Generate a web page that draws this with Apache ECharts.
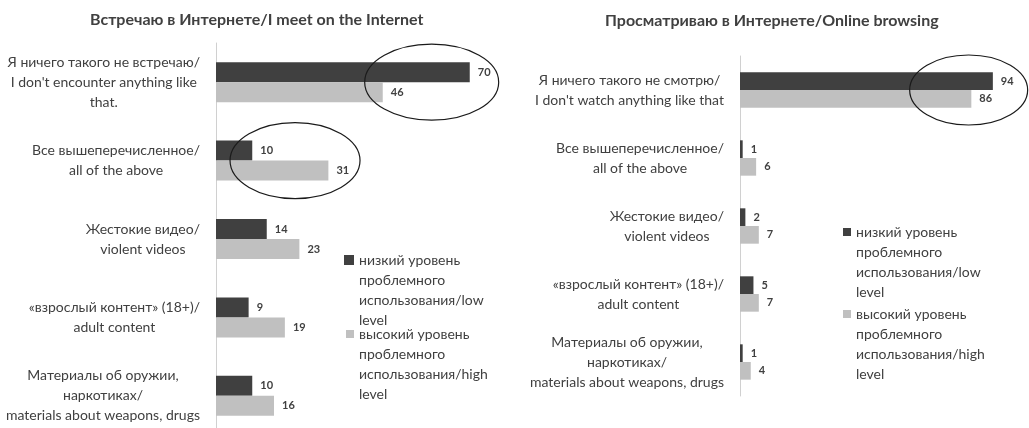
<!DOCTYPE html>
<html>
<head>
<meta charset="utf-8">
<script src="https://cdn.jsdelivr.net/npm/echarts@6/dist/echarts.min.js"></script>
<style>html,body{margin:0;padding:0;background:#fff;}#c{width:1029px;height:428px;}</style>
</head>
<body>
<div id="c"></div>
<script>
const titles = ['Встречаю в Интернете/I meet on the Internet', 'Просматриваю в Интернете/Online browsing'];
const categoriesMeet = [
  "Я ничего такого не встречаю/\nI don't encounter anything like\nthat.",
  "Все вышеперечисленное/\nall of the above",
  "Жестокие видео/\nviolent videos",
  "«взрослый контент» (18+)/\nadult content",
  "Материалы об оружии,\nнаркотиках/\nmaterials about weapons, drugs"
];
const categoriesBrowse = [
  "Я ничего такого не смотрю/\nI don't watch anything like that",
  "Все вышеперечисленное/\nall of the above",
  "Жестокие видео/\nviolent videos",
  "«взрослый контент» (18+)/\nadult content",
  "Материалы об оружии,\nнаркотиках/\nmaterials about weapons, drugs"
];
const seriesNames = [
  'низкий уровень\nпроблемного\nиспользования/low\nlevel',
  'высокий уровень\nпроблемного\nиспользования/high\nlevel'
];
const meetLow = [70, 10, 14, 9, 10];
const meetHigh = [46, 31, 23, 19, 16];
const browseLow = [94, 1, 2, 5, 1];
const browseHigh = [86, 6, 7, 7, 4];
// highlighted groups: [grid index, value centre, category index, radius x px, radius y px]
const highlights = [
  [0, 59.5, 0, 67, 38],
  [0, 21.8, 1, 65, 38],
  [1, 85, 0, 59, 35]
];

const FONT = 'Lato, "Liberation Sans", sans-serif';
const TXT = '#404040';
const DARK = '#404040';
const LIGHT = '#c0c0c0';

function catLabel(v) {
  return v.split('\n').map(l => '{c|' + l + '}').join('\n');
}
function yAxis(gi, cats) {
  return {
    type: 'category', gridIndex: gi, data: cats, inverse: true,
    axisLine: {show: true, lineStyle: {color: '#d0d0d0', width: 1}},
    axisTick: {show: false},
    axisLabel: {
      margin: 16, formatter: catLabel,
      rich: {c: {align: 'center', fontSize: 14, lineHeight: 20, color: TXT, fontFamily: FONT}}
    }
  };
}
function xAxis(gi, max) {
  return {type: 'value', gridIndex: gi, min: 0, max: max, show: false, splitLine: {show: false}};
}
function bars(gi, name, data, color, gap) {
  return {
    type: 'bar', name: name, xAxisIndex: gi, yAxisIndex: gi, data: data,
    barGap: '0%', barCategoryGap: gap,
    itemStyle: {color: color},
    label: {show: true, position: 'right', distance: 8, color: TXT, fontWeight: 'bold', fontSize: 11, fontFamily: FONT},
    emphasis: {disabled: true}, animation: false
  };
}
function legend(name, left, top, size) {
  return {
    data: [name], left: left, top: top, padding: 0, orient: 'vertical',
    itemWidth: size, itemHeight: size, icon: 'rect', selectedMode: false,
    formatter: n => '\n\n\n' + n,
    textStyle: {color: TXT, fontSize: 14, lineHeight: 20, fontFamily: FONT}
  };
}

const chart = echarts.init(document.getElementById('c'), null, {renderer: 'canvas'});
chart.setOption({
  animation: false,
  backgroundColor: '#fff',
  color: [DARK, LIGHT],
  title: [
    {text: titles[0], left: 90, top: 12, padding: 0, textStyle: {fontFamily: FONT, fontSize: 16, fontWeight: 'bold', color: TXT}},
    {text: titles[1], left: 605, top: 13, padding: 0, textStyle: {fontFamily: FONT, fontSize: 16, fontWeight: 'bold', color: TXT}}
  ],
  grid: [
    {left: 216, top: 43, width: 290, height: 392, outerBoundsMode: 'none', containLabel: false},
    {left: 740, top: 56, width: 269, height: 340, outerBoundsMode: 'none', containLabel: false}
  ],
  xAxis: [xAxis(0, 80), xAxis(1, 100)],
  yAxis: [yAxis(0, categoriesMeet), yAxis(1, categoriesBrowse)],
  legend: [
    legend(seriesNames[0], 344, 190, 10),
    legend(seriesNames[1], 346, 264, 8),
    legend(seriesNames[0], 843, 162, 8),
    legend(seriesNames[1], 843, 244, 8)
  ],
  series: [
    bars(0, seriesNames[0], meetLow, DARK, '49%'),
    bars(0, seriesNames[1], meetHigh, LIGHT, '49%'),
    bars(1, seriesNames[0], browseLow, DARK, '48%'),
    bars(1, seriesNames[1], browseHigh, LIGHT, '48%')
  ]
});

const graphics = highlights.map(h => {
  const p = chart.convertToPixel({gridIndex: h[0]}, [h[1], h[2]]);
  return {
    type: 'ellipse', silent: true, z: 100,
    shape: {cx: p[0], cy: p[1], rx: h[3], ry: h[4]},
    style: {fill: 'none', stroke: '#1a1a1a', lineWidth: 1.2}
  };
});
chart.setOption({graphic: graphics});
</script>
</body>
</html>
